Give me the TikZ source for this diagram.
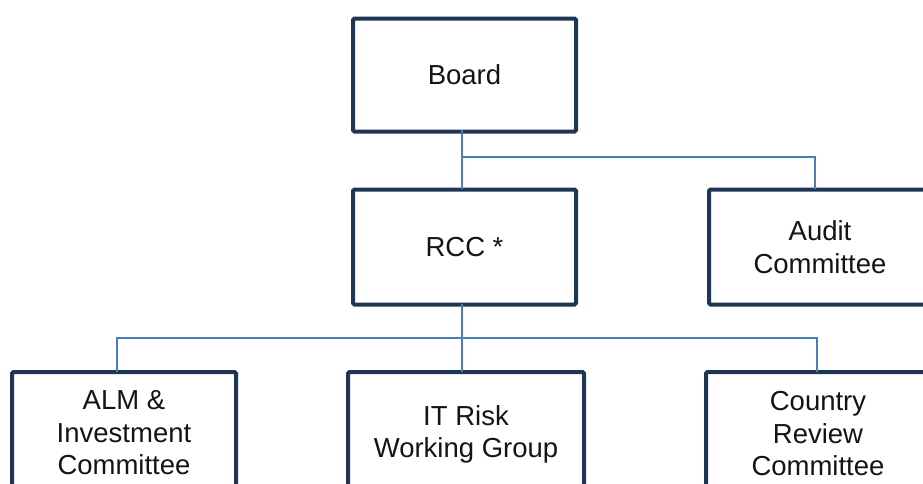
\documentclass[tikz,border=0pt]{standalone}
\usepackage{fontspec}
\setmainfont{Liberation Sans}
\definecolor{boxline}{HTML}{1F3652}
\definecolor{conn}{HTML}{4A7EBB}
\begin{document}
\begin{tikzpicture}[x=1pt,y=-1pt,
  lbl/.style={align=center,font=\fontsize{27.5}{32.5}\selectfont,text=black!92},
  orgbox/.style={lbl,draw=boxline,line width=4pt,fill=white,rounded corners=1.5pt,inner sep=0pt},
  link/.style={draw=conn,line width=1.8pt}]
\useasboundingbox (0,0) rectangle (923,483);
\clip (0,0) rectangle (923,483);
\node[orgbox,minimum width=223pt,minimum height=113pt] (board) at (464.5,75) {Board};
\node[orgbox,minimum width=223pt,minimum height=115pt] (rcc) at (464.5,247) {RCC *};
\node[orgbox,minimum width=222pt,minimum height=115pt] (audit) at (820,247) {Audit\\Committee};
\node[orgbox,minimum width=224pt,minimum height=140pt] (alm) at (124,442) {};
\node[orgbox,minimum width=236pt,minimum height=140pt] (itr) at (466,442) {};
\node[orgbox,minimum width=222pt,minimum height=140pt] (ctry) at (817,442) {};
\node[lbl,anchor=north] (almt) at (124,387) {ALM \&\\Investment\\Committee};
\node[lbl,anchor=north] (itrt) at (466,402) {IT Risk\\Working Group};
\node[lbl,anchor=north] (ctryt) at (818,388) {Country\\Review\\Committee};
\coordinate (j1) at (462,157);
\coordinate (j2) at (462,338);
\draw[link] (462,130) -- (462,189);
\draw[link] (j1) -| (815,189);
\draw[link] (462,304) -- (462,372);
\draw[link] (117,372) |- (j2) -| (817,372);
\end{tikzpicture}
\end{document}
